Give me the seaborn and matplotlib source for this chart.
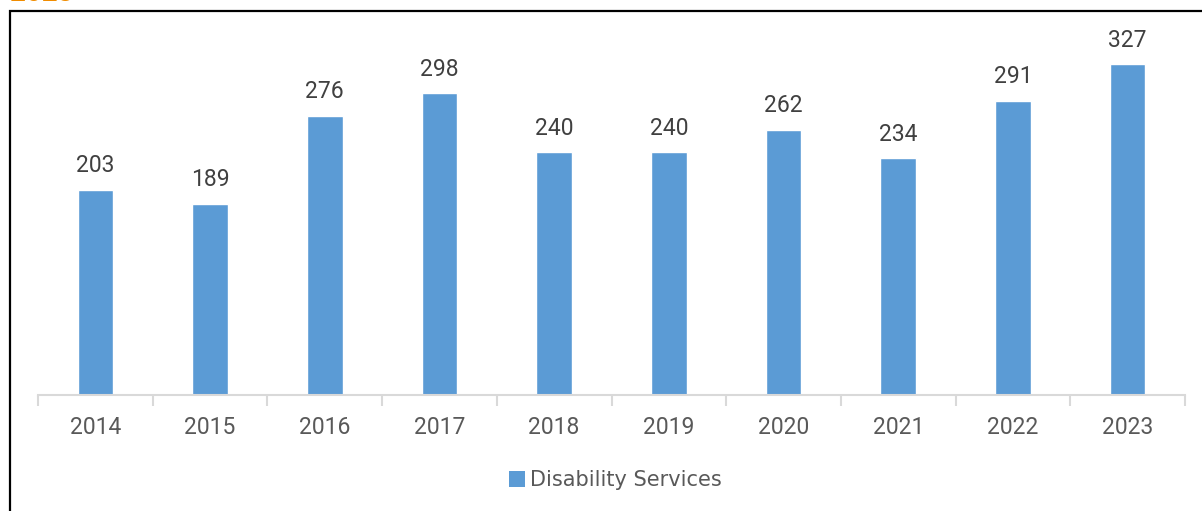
# Disability Services by year - bar chart

import pandas as pd
import numpy as np
import matplotlib.pyplot as plt
import seaborn as sns
from matplotlib.patches import Rectangle, Patch

years = ['2014', '2015', '2016', '2017', '2018', '2019', '2020', '2021', '2022', '2023']
values = [203, 189, 276, 298, 240, 240, 262, 234, 291, 327]
series_name = 'Disability Services'

df = pd.DataFrame({'year': years, 'value': values})

sns.set_style('white')
plt.rcParams['font.family'] = ['Roboto', 'DejaVu Sans']

W, H = 1202, 511
fig = plt.figure(figsize=(W / 100, H / 100), dpi=100)
ax = fig.add_axes([38 / W, (H - 395) / H, (1185 - 38) / W, (395 - 20) / H])

bar_color = '#5B9BD5'
sns.barplot(data=df, x='year', y='value', color=bar_color, width=0.31,
            saturation=1, ax=ax)
ax.set_xlim(-0.5, len(years) - 0.5)
ax.set_ylim(0, 370.6)

# data labels
ax.bar_label(ax.containers[0], labels=[str(v) for v in values], padding=9,
             fontsize=16.5, color='#404040')

# axes cosmetics
for s in ['top', 'right', 'left']:
    ax.spines[s].set_visible(False)
ax.spines['bottom'].set_color('#D9D9D9')
ax.spines['bottom'].set_linewidth(1.5)
ax.set_yticks([])
ax.set_xlabel('')
ax.set_ylabel('')
ax.tick_params(axis='x', which='major', bottom=True, length=0, pad=15, labelsize=16.5,
               labelcolor='#595959')
ax.set_xticks(np.arange(-0.5, len(years)), minor=True)
ax.tick_params(axis='x', which='minor', bottom=True, length=8, width=1.5, color='#D9D9D9')

# legend under the plot
handle = Patch(facecolor=bar_color, edgecolor='none')
fig.legend([handle], [series_name], loc='center', bbox_to_anchor=(615 / W, 1 - 480 / H),
           frameon=False, handlelength=0.8, handleheight=0.8, handletextpad=0.2,
           prop={'family': ['DejaVu Sans'], 'size': 15}, labelcolor='#595959')

# outer frame (cut off at the right and bottom)
fig.patches.append(Rectangle((10 / W, -0.1), 1.2, 1.1 - 11 / H, transform=fig.transFigure,
                             fill=False, edgecolor='black', linewidth=1.6, figure=fig))

# orange title text, mostly cut off at the top of the picture
fig.text(10 / W, 1 - 1 / H, '2023', color='#F08C00', fontsize=20, fontweight='bold',
         ha='left', va='baseline')

fig.savefig('out.png', dpi=100)
